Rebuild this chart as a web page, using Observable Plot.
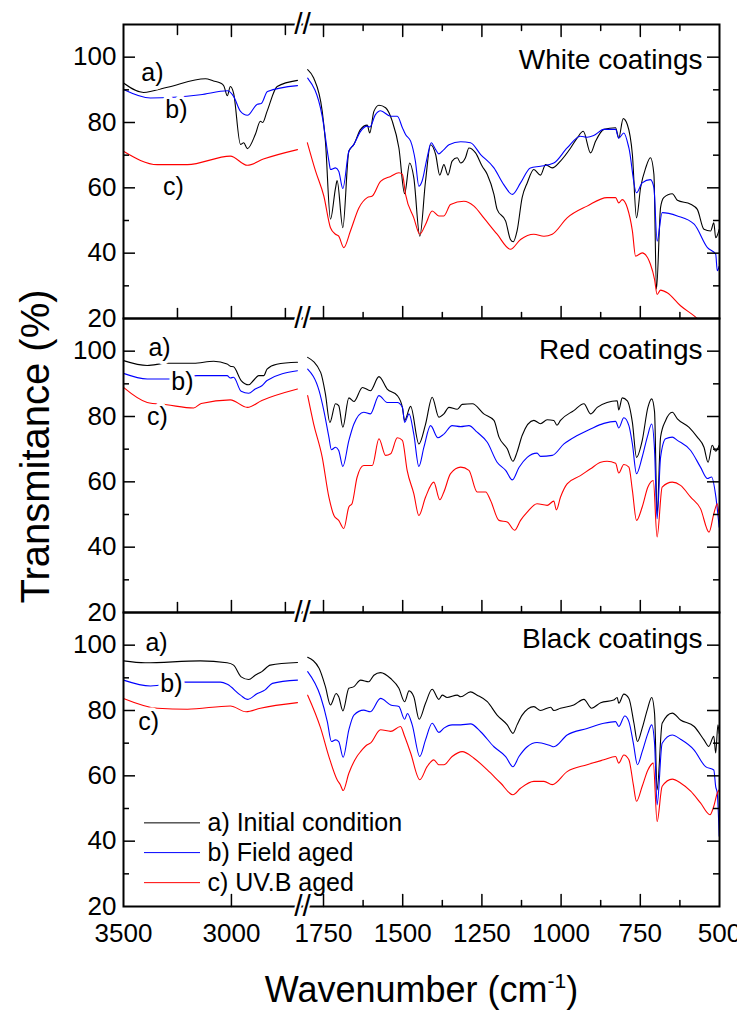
<!DOCTYPE html>
<html>
<head>
<meta charset="utf-8">
<script src="https://cdn.jsdelivr.net/npm/d3@7"></script>
<script src="https://cdn.jsdelivr.net/npm/@observablehq/plot@0.6"></script>
<style>
  html, body { margin: 0; padding: 0; background: #ffffff; }
  #chart { width: 737px; height: 1010px; }
</style>
</head>
<body>
<div id="chart"></div>
<script>
// ---------------- data ----------------
const panels = ["White coatings", "Red coatings", "Black coatings"];
const seriesKeys = ["a", "b", "c"];
const seriesNames = ["a) Initial condition", "b) Field aged", "c) UV.B aged"];
const seriesColors = ["#000000", "#0000ff", "#ff0000"];

const xLabelTicks = [3500, 3000, 1750, 1500, 1250, 1000, 750, 500];
const xMajorTicks = [3000, 1750, 1500, 1250, 1000, 750];
const xMidTicks = [3250, 2750];
const xMinorTicks = [1625, 1375, 1125, 875, 625];
const yLabelTicks = [20, 40, 60, 80, 100];
const yMajorTicks = [40, 60, 80, 100];
const yMinorTicks = [30, 50, 70, 90];
const xBreak = [2245];
const yDomain = [20, 110];

const yLabel = "Transmitance (%)";
const xLabel = "Wavenumber (cm-1)";

// [wavenumber, transmittance]
const white_a = [
  [3500,92.1],[3407,89.2],[3296,90.8],[3120,93.4],[3083,92.7],[3051,92.1],[3035,91.2],[3019,88.2],[3005,91],[2990,89],
  [2958,73.3],[2943,73.8],[2926,72],[2889,76.4],[2866,80.4],[2855,80],[2835,83.4],[2788,91],[2694,92.9],
  [1800,96.2],[1781,93.6],[1754,83.4],[1744,74.3],[1728,50.4],[1712,60],[1707,62.2],[1689,47.8],[1670,71.2],[1654,73.3],
  [1633,77.9],[1612,79.2],[1604,76.8],[1591,83.4],[1575,85.3],[1554,84.5],[1533,80.4],[1512,72.2],[1494,58.2],[1478,67.6],
  [1465,63.1],[1446,45.2],[1428,62],[1412,73.2],[1396,70.2],[1383,63.9],[1370,67.1],[1357,63.9],[1344,68.2],[1328,69.2],
  [1317,67.6],[1302,69.2],[1291,72.2],[1270,70.7],[1249,66.6],[1233,64.1],[1212,58],[1202,53.4],[1175,49.8],[1160,44.2],
  [1151,43.5],[1139,46.8],[1123,57],[1107,61.5],[1086,65.6],[1065,63.9],[1049,67.1],[1028,66.1],[1002,68.2],[970,72.2],
  [949,75.3],[930,77.3],[907,70.7],[891,74.3],[865,77.9],[828,78.4],[818,75.3],[804,81.2],[791,79.4],[775,70.2],
  [762,50.8],[749,60.1],[733,66.1],[718,69.2],[707,64.1],[699,29],[686,54],[676,57],[649,58.2],[633,56.2],
  [591,55],[570,53.4],[549,47.3],[528,46.8],[518,49.3],[512,44.7],[501,47.3]
];
const white_b = [
  [3500,90.1],[3375,87.5],[3144,88.5],[3019,89.7],[2990,88],[2958,83.4],[2926,82.2],[2880,85.6],[2862,85.8],[2833,89.5],[2694,91.3],
  [1800,93.6],[1754,81.9],[1733,68.2],[1728,65.6],[1712,66.1],[1702,65.1],[1689,59.8],[1670,71.2],[1654,73.3],[1633,77.3],
  [1612,78.9],[1604,78.6],[1586,82.4],[1570,83.6],[1538,81.9],[1517,81.9],[1501,78.4],[1491,76.3],[1475,74.3],[1460,68.2],
  [1449,60.5],[1439,62],[1423,69.2],[1410,73.8],[1396,71.7],[1386,70.4],[1370,71.7],[1354,73.2],[1317,74.1],[1286,73.8],
  [1254,70.2],[1212,66.1],[1181,61],[1154,58],[1128,61.5],[1097,66.1],[1065,66.6],[1023,67.6],[981,72.2],[939,75.8],
  [918,75.5],[897,76],[865,77.9],[828,77.9],[818,75.2],[802,76.8],[786,72.2],[762,58.5],[744,61.5],[718,62.5],
  [707,60],[697,43.7],[681,52.4],[633,51.4],[580,48.9],[538,41.7],[512,39.7],[507,34.6],[501,36]
];
const white_c = [
  [3500,71.2],[3343,67.1],[3204,67.1],[3005,69.7],[2926,66.9],[2852,68.8],[2694,71.7],
  [1801,73.8],[1775,65.1],[1749,57.5],[1728,47.8],[1712,45.8],[1702,45.2],[1686,41.7],[1665,46.8],[1638,53.9],[1612,57],
  [1596,57.5],[1570,62],[1538,63.5],[1512,64.6],[1501,64.1],[1491,58],[1465,50.8],[1446,45.8],[1428,48.8],[1407,52.9],
  [1386,51.4],[1370,51.4],[1349,54.9],[1307,55.9],[1275,54.4],[1244,50.8],[1202,45.8],[1160,41.2],[1128,44.2],[1086,45.8],
  [1054,45.2],[1028,45.8],[981,50.8],[918,54.4],[855,57],[828,57],[818,55.4],[807,56.4],[791,53.9],[775,46.8],
  [765,39.1],[744,40.1],[718,36.6],[705,32],[697,27.4],[686,28.7],[665,27.9],[623,23.9],[580,20.8],[570,20],[540,17.6],[500,14.5]
];
const red_a = [
  [3500,97.1],[3390,95.6],[3300,96.3],[3175,96.3],[3082,96.9],[3020,96.1],[3005,95.4],[2990,95.2],[2955,91],[2920,89.7],
  [2897,91.1],[2874,92.5],[2850,92.5],[2835,94.5],[2790,96],[2694,96.6],
  [1800,98.1],[1759,93.5],[1744,86.9],[1730,78.2],[1712,83.9],[1702,83.3],[1689,76.7],[1670,85.7],[1654,84.6],[1627,88.9],
  [1602,87.9],[1575,92.2],[1549,88.4],[1517,86.4],[1501,82.8],[1494,78.8],[1475,83.1],[1449,71.6],[1428,77.6],[1407,85.9],
  [1386,79.8],[1370,80.8],[1354,82.8],[1328,82.2],[1312,83.7],[1280,83.9],[1244,80.8],[1212,78.8],[1196,73.7],[1170,70.1],
  [1152,66.3],[1139,69.1],[1123,74.2],[1086,78.8],[1065,77.8],[1044,79],[1023,78.8],[1013,77.3],[1002,78.8],[960,81.8],
  [928,83.9],[907,80.8],[886,82.8],[855,84.3],[823,84.8],[818,82],[807,85.7],[791,84.8],[775,78.2],[762,67.5],
  [744,72.6],[726,82.8],[714,85.4],[705,81.4],[697,50],[686,73.7],[670,78.8],[649,81.3],[633,79.3],[596,76.7],
  [570,73.7],[549,70.6],[536,66],[523,71.2],[512,69.4],[501,71.2]
];
const red_b = [
  [3500,93.2],[3390,91.5],[3282,91.5],[3160,92.5],[3020,92.5],[3005,91.8],[2990,92],[2955,87.7],[2920,87.1],[2890,88.4],
  [2859,89.4],[2835,91],[2694,94],
  [1800,94.5],[1764,87.9],[1749,81.8],[1733,73.7],[1725,69.8],[1712,70.6],[1702,69.6],[1689,64.7],[1670,72.6],[1654,77.7],
  [1623,81.3],[1602,80.8],[1575,86.4],[1549,84.3],[1517,84.3],[1501,82.8],[1494,78.2],[1480,80.8],[1465,74.6],[1449,64.7],
  [1433,70.6],[1412,77.2],[1389,73.5],[1370,74.6],[1344,77.2],[1317,76.9],[1291,77.2],[1265,75.2],[1233,72.1],[1202,66],
  [1175,63.5],[1154,60.6],[1133,64.4],[1107,67.5],[1076,68.8],[1065,67.8],[1028,68.1],[991,71.6],[949,74.2],[907,76.2],
  [865,77.9],[828,78.5],[818,76.5],[802,79.6],[786,77.2],[775,71.6],[762,62.5],[744,67.6],[728,73.7],[714,77.7],
  [705,69.6],[697,48.7],[686,67.5],[670,73.2],[649,73.7],[633,72.7],[591,69.6],[560,64.5],[538,61],[525,61.5],
  [512,55.8],[501,46.1]
];
const red_c = [
  [3500,88.9],[3390,84.3],[3300,83.6],[3175,82.6],[3140,84],[3005,85.1],[2926,82.8],[2859,84.9],[2694,88.4],
  [1800,86.4],[1781,77.7],[1754,67.5],[1733,55.3],[1717,49.7],[1702,48.2],[1686,45.7],[1670,52.3],[1660,53.3],[1644,61.4],
  [1623,65],[1596,65],[1575,73.2],[1554,68.1],[1538,68.6],[1517,73.5],[1501,72.7],[1486,63.5],[1465,56.4],[1449,49.7],
  [1428,55.3],[1402,59.9],[1383,54.5],[1370,56.9],[1349,62.5],[1317,64.5],[1291,63.5],[1265,56.9],[1238,56.9],[1223,54.4],
  [1196,48.2],[1170,47.7],[1147,45.2],[1128,48.2],[1107,50.7],[1076,53.3],[1044,52.8],[1023,54.1],[1015,51.4],[1002,55.3],
  [981,59.4],[939,61.9],[907,64],[875,66],[855,66.3],[828,65.7],[818,62.7],[802,65.3],[786,64.5],[775,57.4],
  [762,48.2],[744,52.3],[726,58.4],[709,60.4],[697,43.1],[681,58.4],[649,59.9],[623,58.9],[591,55.3],[560,51.8],
  [533,44.6],[518,50.2],[507,53.3],[501,49.2]
];
const black_a = [
  [3500,95.2],[3400,94.6],[3144,95.2],[3020,94.6],[2990,93.9],[2955,90.3],[2920,89.5],[2890,90.8],[2859,91.9],[2820,93.9],[2694,94.7],
  [1800,96.3],[1764,92.9],[1744,87.3],[1728,81.7],[1710,85.2],[1702,84.2],[1689,79.9],[1670,86.8],[1654,87.3],[1633,89.3],
  [1607,88.8],[1591,90.8],[1570,91.6],[1538,89.8],[1512,86.8],[1494,82.7],[1480,86],[1465,84.2],[1448,77.3],[1428,82.2],
  [1407,86.5],[1386,83.4],[1375,84.7],[1360,84],[1328,84.7],[1317,84.2],[1286,85.7],[1265,84.7],[1233,82.7],[1202,78.6],
  [1170,75.6],[1152,73],[1139,75.6],[1123,78.6],[1086,81.2],[1065,80],[1033,81],[1023,80],[1002,80.7],[960,81.7],
  [928,83.4],[904,80.7],[875,82.4],[834,83.2],[823,84],[818,82.2],[802,85],[786,83.7],[770,76.1],[759,70.5],
  [744,74.6],[728,80.2],[714,84],[705,79.1],[697,55.7],[681,76.1],[649,79.2],[623,77.1],[580,75.1],[549,71],
  [534,69],[518,72.1],[512,67],[505,75.6],[501,73]
];
const black_b = [
  [3500,89.3],[3375,87.5],[3229,88.7],[3051,88.7],[3019,88],[2958,84.7],[2926,83.4],[2880,85.2],[2844,86.3],[2810,88.3],[2694,89.3],
  [1800,91.9],[1759,84.2],[1738,76.6],[1725,70.5],[1712,71],[1702,70.5],[1688,65.7],[1670,74.1],[1654,78.6],[1623,80.1],
  [1602,79.6],[1570,83.7],[1538,81.7],[1512,81.2],[1494,77.3],[1485,79.1],[1470,75.6],[1446,65.9],[1428,71],[1407,76.1],
  [1386,73.3],[1370,74.6],[1344,75.6],[1317,75.6],[1286,75.9],[1254,73.5],[1212,68.9],[1175,65.9],[1152,62.8],[1133,65.9],
  [1107,68.9],[1076,70.2],[1033,69.2],[1023,68.9],[981,72.5],[918,74.5],[865,76.1],[828,76.6],[818,75.1],[799,78.3],
  [786,76.6],[772,70],[759,63.4],[744,67.4],[726,73],[714,75.6],[705,70],[697,51.1],[681,70],[649,72.5],
  [623,71.2],[580,67.9],[544,62.8],[518,61.8],[512,56.7],[507,54.7],[501,41.5]
];
const black_c = [
  [3500,83.7],[3343,80.7],[3204,80.4],[3005,81.4],[2932,79.6],[2866,80.7],[2694,82.4],
  [1800,84.7],[1759,74.6],[1733,65.9],[1707,58.8],[1697,57.3],[1688,55.5],[1670,60.8],[1644,66],[1633,67.4],[1612,69.5],
  [1602,70],[1570,74.1],[1538,73.6],[1507,75.1],[1494,72.1],[1475,67],[1446,58.8],[1423,62.8],[1402,64.9],[1386,63.4],
  [1370,63.4],[1344,65.9],[1312,67.4],[1275,65.4],[1233,61.8],[1191,57.8],[1152,54.2],[1128,56.2],[1086,58.3],[1054,58.3],
  [1028,57.3],[981,61.3],[918,63.4],[865,64.9],[828,65.9],[818,63.9],[802,66.4],[786,64.9],[772,57.3],[762,52.2],
  [744,56.8],[726,61.8],[709,63.9],[697,46],[681,56.8],[649,59],[623,57.8],[591,55.3],[560,51.7],[530,48.1],
  [518,50.7],[507,54.7],[501,55.7]
];

// label positions of a) b) c) inside each panel [wavenumber, transmittance]
const tagsWhite = [[3366,95.3],[3255,83.7],[3269,60.2]];
const tagsRed = [[3333,101.1],[3227,90.7],[3343,80]];
const tagsBlack = [[3347,100.6],[3278,88.1],[3384,76.5]];
const titleT = [99, 100.2, 101.8];
const legendRowsT = [45.6, 36.5, 27.3];

// ---------------- layout ----------------
const W = 737, H = 1010, mT = 23, mB = 103, mL = 123, mR = 18;
const frameW = W - mL - mR;
const facetH = (H - mT - mB) / 3;
const pxPerT = facetH / (yDomain[1] - yDomain[0]);
const FONT = "'Liberation Sans', Arial, Helvetica, sans-serif";

// broken wavenumber axis: 3500–2680 | 1810–500 joined into one continuous coordinate
const broken = d3.scaleLinear().domain([3500, 2680, 1810, 500]).range([0, 177, 181, frameW]);

// ---------------- tables ----------------
const spectra = [
  ["White coatings", "a", white_a], ["White coatings", "b", white_b], ["White coatings", "c", white_c],
  ["Red coatings", "a", red_a], ["Red coatings", "b", red_b], ["Red coatings", "c", red_c],
  ["Black coatings", "a", black_a], ["Black coatings", "b", black_b], ["Black coatings", "c", black_c]
];
const table = spectra.flatMap(([panel, s, pts]) => pts.map(([w, t]) => ({
  panel, series: s, key: panel + s + (w > 2000 ? "L" : "R"), w, t,
  color: seriesColors[seriesKeys.indexOf(s)]
})));
const tagTable = [["White coatings", tagsWhite], ["Red coatings", tagsRed], ["Black coatings", tagsBlack]]
  .flatMap(([panel, pos]) => pos.map(([w, t], i) => ({panel, tag: seriesKeys[i] + ")", w, t})));
const legend = seriesNames.map((name, i) => ({name, t: legendRowsT[i], color: seriesColors[i]}));

const bx = d => broken(d.w);

// inward x ticks as two-point segments (length in pixels converted to y units)
function tickSegs(list, values, len, side) {
  const base = side === "top" ? yDomain[1] : yDomain[0];
  const end = side === "top" ? yDomain[1] - len / pxPerT : yDomain[0] + len / pxPerT;
  return list.flatMap(panel => values.flatMap(w => {
    const key = side + panel + w;
    return [{panel, key, w, t: base}, {panel, key, w, t: end}];
  }));
}
const xTickSegs = [
  ...tickSegs(panels, xMajorTicks, 12, "bottom"),
  ...tickSegs(panels, xMinorTicks, 6, "bottom"),
  ...tickSegs(["White coatings", "Red coatings"], xMidTicks, 10, "bottom"),
  ...tickSegs(["White coatings"], xMajorTicks, 12, "top"),
  ...tickSegs(["White coatings"], xMinorTicks, 6, "top"),
  ...tickSegs(["White coatings"], xMidTicks, 10, "top")
];

function yTicks(values, len) {
  return [
    Plot.tickY(values, {y: d => d, stroke: "black", strokeWidth: 1.5, insetRight: frameW - len}),
    Plot.tickY(values, {y: d => d, stroke: "black", strokeWidth: 1.5, insetLeft: frameW - len})
  ];
}

const chart = Plot.plot({
  width: W, height: H,
  marginTop: mT, marginBottom: mB, marginLeft: mL, marginRight: mR,
  style: {fontFamily: FONT, background: "#ffffff", color: "#000000", overflow: "visible"},
  x: {domain: [0, frameW], axis: null},
  y: {domain: yDomain, axis: null},
  fy: {domain: panels, padding: 0, axis: null},
  marks: [
    Plot.line(table, {x: bx, y: "t", fy: "panel", z: "key", stroke: "color", strokeWidth: 1.1,
      curve: "monotone-x", clip: true}),
    Plot.text(tagTable, {x: bx, y: "t", fy: "panel", text: "tag", fontSize: 25, fill: "black",
      stroke: "white", strokeWidth: 7, paintOrder: "stroke"}),
    Plot.text(panels, {fy: d => d, y: (d, i) => titleT[i], frameAnchor: "right", dx: -17, text: d => d,
      textAnchor: "end", fontSize: 28, fill: "black"}),
    Plot.ruleY(legend, {y: "t", fy: () => "Black coatings", stroke: "color", strokeWidth: 1,
      insetLeft: 21, insetRight: frameW - 77}),
    Plot.text(legend, {y: "t", fy: () => "Black coatings", text: "name", frameAnchor: "left", dx: 84,
      textAnchor: "start", fontSize: 25, fill: "black"}),
    Plot.frame({stroke: "black", strokeWidth: 2}),
    Plot.line(xTickSegs, {x: bx, y: "t", fy: "panel", z: "key", stroke: "#000000", strokeWidth: 1.5,
      curve: "linear"}),
    ...yTicks(yMajorTicks, 12),
    ...yTicks(yMinorTicks, 6),
    Plot.text(xBreak, {x: d => broken(d), frameAnchor: "top", text: () => "//", fontSize: 30, lineAnchor: "middle",
      fill: "black", stroke: "white", strokeWidth: 4, paintOrder: "stroke"}),
    Plot.text(xBreak, {x: d => broken(d), frameAnchor: "bottom", text: () => "//", fontSize: 30, lineAnchor: "middle",
      fill: "black", stroke: "white", strokeWidth: 4, paintOrder: "stroke"}),
    Plot.axisY({ticks: yLabelTicks, tickSize: 0, tickPadding: 7, tickFormat: "d", fontSize: 26, label: null}),
    Plot.text(xLabelTicks, {x: d => broken(d), text: d => String(d), fy: () => "Black coatings",
      frameAnchor: "bottom", dy: 17, lineAnchor: "top", textAnchor: "middle", fontSize: 26, fill: "black"}),
    Plot.text([yLabel], {fy: () => "Red coatings", frameAnchor: "left", rotate: -90, dx: -75, dy: -19,
      lineAnchor: "bottom", textAnchor: "middle", fontSize: 40, fill: "black"}),
    Plot.text([xLabel], {fy: () => "Black coatings", frameAnchor: "bottom", dy: 95,
      lineAnchor: "bottom", textAnchor: "middle", fontSize: 36, fill: "black"})
  ]
});

// superscript for cm-1
d3.select(chart).selectAll("text")
  .filter(function () { return this.textContent === xLabel; })
  .each(function () {
    const t = d3.select(this);
    t.text(null);
    t.append("tspan").text("Wavenumber (cm");
    t.append("tspan").attr("dy", -14).attr("font-size", 21).text("-1");
    t.append("tspan").attr("dy", 14).text(")");
  });

document.getElementById("chart").append(chart);
</script>
</body>
</html>
